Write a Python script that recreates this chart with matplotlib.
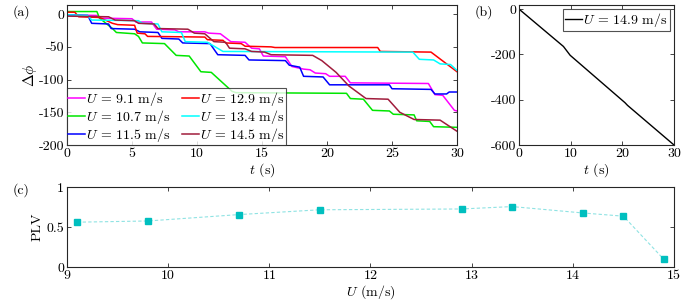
import numpy as np
import matplotlib
matplotlib.use('Agg')
import matplotlib.pyplot as plt

plt.rcParams['font.family'] = 'serif'
plt.rcParams['font.serif'] = ['cmr10']
plt.rcParams['mathtext.fontset'] = 'cm'
plt.rcParams['axes.unicode_minus'] = False
plt.rcParams['font.size'] = 10

# ---- panel (a): phase difference vs time, breakpoints
t_91 = [0, 2.3, 2.5, 5, 5.3, 6.5, 6.9, 8.3, 8.6, 10.6, 10.9, 11.8, 12.6, 13.7, 14.2, 14.8, 15.1,
        16.8, 17.3, 18.2, 18.7, 19.1, 19.9, 20.2, 21.4, 21.8, 27.8, 28.3, 28.9, 29.8, 30]
p_91 = [-1, -2, -6, -7, -12, -12, -23, -24, -27, -27, -29, -30, -42, -43, -52, -53, -64,
        -65, -80, -84, -85, -90, -91, -95, -95, -105, -106, -123, -124, -147, -148]

t_107 = [0, 2.3, 2.5, 3.0, 3.5, 3.8, 5.2, 5.5, 5.8, 7.5, 8.4, 9.4, 10.3, 11.1, 12.7, 13, 21.5,
         21.8, 22.8, 23.5, 24.8, 25.1, 26.7, 26.9, 27.9, 28.2, 30]
p_107 = [4, 4, -6, -14, -22, -28, -30, -34, -44, -45, -63, -64, -88, -89, -118, -120, -121,
         -129, -130, -147, -148, -153, -154, -163, -164, -172, -173]

t_115 = [0, 1.6, 1.9, 3.2, 3.4, 5.2, 5.6, 7, 7.3, 8.6, 8.9, 11.0, 11.6, 13.7, 14, 16.8, 17.1,
         17.9, 18.2, 19.7, 20.2, 24.8, 25.0, 28, 28.3, 29.2, 29.4, 30]
p_115 = [-1, -2, -14, -15, -22, -23, -27, -28, -37, -38, -44, -45, -62, -63, -70, -71, -78,
         -81, -95, -96, -108, -108, -114, -115, -122, -122, -119, -119]

t_129 = [0, 0.6, 0.9, 2.5, 3.5, 3.9, 5.2, 5.4, 6, 6.2, 10.6, 10.8, 12.0, 12.2, 13.4, 13.7,
         15.7, 16, 23.9, 24.1, 28, 29.2, 30]
p_129 = [3, 3, -4, -5, -14, -16, -17, -29, -30, -34, -35, -39, -40, -44, -45, -49,
         -50, -51, -51, -57, -58, -76, -88]

t_134 = [0, 1.6, 1.9, 5.5, 5.8, 7.0, 7.3, 8.8, 9.1, 10.8, 12.0, 26.6, 27.1, 28.2, 28.7, 29.5, 30]
p_134 = [-1, -2, -9, -10, -14, -15, -27, -28, -42, -43, -57, -58, -69, -70, -76, -77, -86]

t_145 = [0, 3.2, 3.7, 5.2, 5.5, 6.7, 7, 9.3, 9.8, 10.6, 11.3, 12.2, 12.5, 13.7, 14.2, 15.2,
         15.7, 18.9, 19.6, 20.7, 21.7, 23, 24.7, 25.6, 26.7, 28.7, 30]
p_145 = [-3, -4, -9, -10, -14, -15, -22, -23, -29, -30, -42, -43, -52, -53, -57, -58,
         -62, -63, -71, -89, -110, -129, -130, -150, -161, -162, -179]

# ---- panel (b)
t_149 = [0, 8.6, 9.9, 20.5, 21, 30]
p_149 = [0, -165, -204, -413, -425, -600]

# ---- panel (c)
U = [9.1, 9.8, 10.7, 11.5, 12.9, 13.4, 14.1, 14.5, 14.9]
plv = [0.56, 0.575, 0.655, 0.715, 0.725, 0.755, 0.675, 0.635, 0.095]

series = [
    (t_91, p_91, '#ff00ff', '$U$ = 9.1 m/s'),
    (t_107, p_107, '#00e600', '$U$ = 10.7 m/s'),
    (t_115, p_115, '#0000ff', '$U$ = 11.5 m/s'),
    (t_129, p_129, '#ff0000', '$U$ = 12.9 m/s'),
    (t_134, p_134, '#00ffff', '$U$ = 13.4 m/s'),
    (t_145, p_145, '#a01c3c', '$U$ = 14.5 m/s'),
]

edge = '#262626'


def style_axes(ax):
    for s in ax.spines.values():
        s.set_color(edge)
        s.set_linewidth(0.8)
    ax.tick_params(direction='in', top=True, right=True, length=3, width=0.6,
                   color=edge, labelsize=10, pad=2)


fig = plt.figure(figsize=(6.92, 3.05), dpi=100)
ax_a = fig.add_axes([0.0968, 0.5246, 0.5636, 0.459])
ax_b = fig.add_axes([0.750, 0.5246, 0.224, 0.459])
ax_c = fig.add_axes([0.0968, 0.1246, 0.8772, 0.2624])

for t, p, c, lab in series:
    ax_a.plot(t, p, color=c, lw=1.1, label=lab)
ax_a.set_xlim(0, 30)
ax_a.set_ylim(-200, 14)
ax_a.set_xticks(np.arange(0, 31, 5))
ax_a.set_yticks(np.arange(-200, 1, 50))
ax_a.set_xlabel('$t$ (s)', labelpad=1)
ax_a.set_ylabel(r'$\Delta\phi$', fontsize=11, labelpad=0)
style_axes(ax_a)
leg = ax_a.legend(loc='lower left', ncol=2, fontsize=10, frameon=True, fancybox=False,
                  borderaxespad=0, handlelength=1.2, handletextpad=0.1,
                  columnspacing=0.8, borderpad=0.1, labelspacing=0.0)
leg.get_frame().set_edgecolor(edge)
leg.get_frame().set_linewidth(0.8)

ax_b.plot(t_149, p_149, color='black', lw=1.0, label='$U$ = 14.9 m/s')
ax_b.set_xlim(0, 30)
ax_b.set_ylim(-600, 18)
ax_b.set_xticks([0, 10, 20, 30])
ax_b.set_yticks([-600, -400, -200, 0])
ax_b.set_xlabel('$t$ (s)', labelpad=1)
style_axes(ax_b)
leg_b = ax_b.legend(loc='upper right', fontsize=10, frameon=True, fancybox=False,
                    borderaxespad=0.3, handlelength=1.2, handletextpad=0.1, borderpad=0.15)
leg_b.get_frame().set_edgecolor(edge)
leg_b.get_frame().set_linewidth(0.8)

ax_c.plot(U, plv, color='#8fe3e3', lw=0.8, ls='--', dashes=(3, 2))
ax_c.plot(U, plv, ls='none', marker='s', ms=5.0, color='#00bfbf')
ax_c.set_xlim(9, 15)
ax_c.set_ylim(0, 1)
ax_c.set_yticks([0, 0.5, 1])
ax_c.set_yticklabels(['0', '0.5', '1'])
ax_c.set_xlabel('$U$ (m/s)', labelpad=1)
ax_c.set_ylabel('PLV', labelpad=2)
style_axes(ax_c)

fig.text(0.018, 0.96, '(a)', fontsize=10, va='center', ha='left')
fig.text(0.686, 0.96, '(b)', fontsize=10, va='center', ha='left')
fig.text(0.018, 0.377, '(c)', fontsize=10, va='center', ha='left')

fig.savefig('out.png', dpi=100)
